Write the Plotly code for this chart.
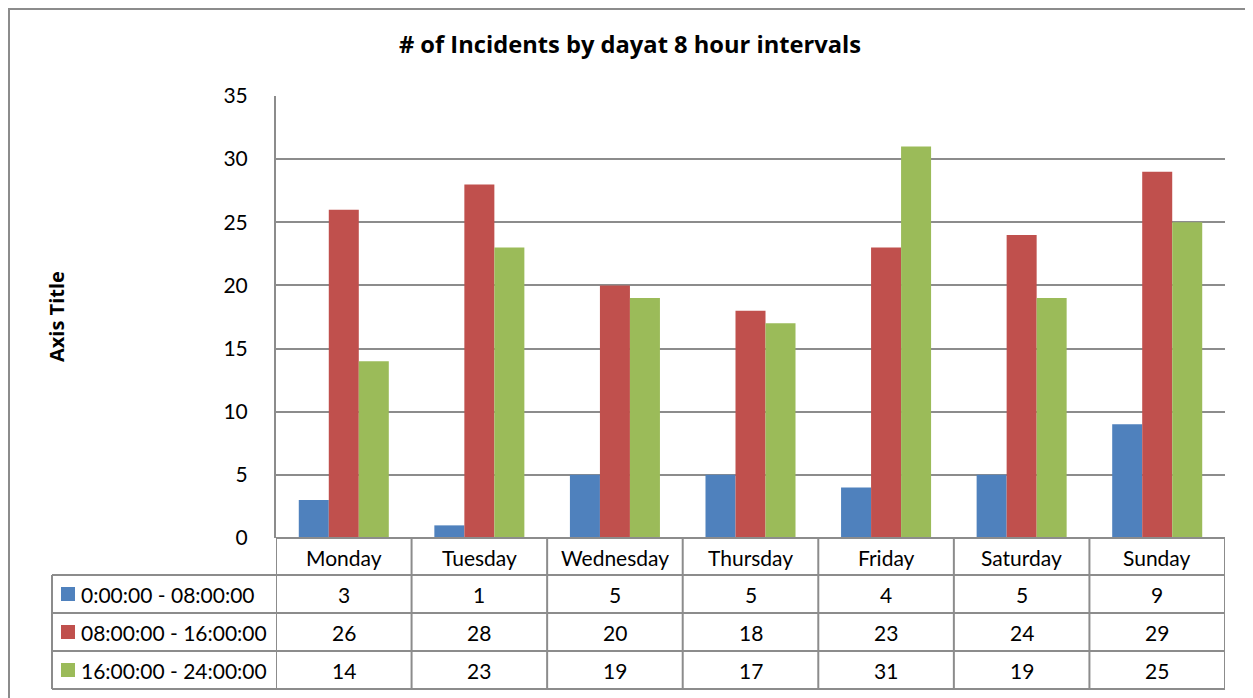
import plotly.graph_objects as go

days = ["Monday", "Tuesday", "Wednesday", "Thursday", "Friday", "Saturday", "Sunday"]
series_names = ["0:00:00 - 08:00:00", "08:00:00 - 16:00:00", "16:00:00 - 24:00:00"]
night = [3, 1, 5, 5, 4, 5, 9]
day_shift = [26, 28, 20, 18, 23, 24, 29]
evening = [14, 23, 19, 17, 31, 19, 25]
series_values = [night, day_shift, evening]
colors = ["#4F81BD", "#C0504D", "#9BBB59"]
y_ticks = [0, 5, 10, 15, 20, 25, 30, 35]

# page body has an 8px margin; work in screen pixels and convert
OFF = 8
W, H = 1253 - OFF, 698 - OFF
L, R, T, B = 276, 1225, 96, 538  # screen pixels of plot area
FONT = "Lato"
BOLD_FONT = "Open Sans"
GRID = "#8C8C8C"
FS = 21


def py(p):  # screen pixel y -> paper y
    return (B - p) / (B - T)


def px(p):  # screen pixel x -> paper x
    return (p - L) / (R - L)


fig = go.Figure()
for name, vals, c in zip(series_names, series_values, colors):
    fig.add_trace(go.Bar(x=days, y=vals, name=name, marker=dict(color=c, line=dict(width=0))))

shapes = []
annotations = []

row_lines = [538, 575, 613, 651, 689]
row_centers = [557, 594, 632, 670]

shapes.append(dict(type="line", xref="x", yref="paper", x0=-0.5, x1=len(days) - 0.5,
                   y0=py(row_lines[0]), y1=py(row_lines[0]), line=dict(color=GRID, width=2)))
for rl in row_lines[1:]:
    shapes.append(dict(type="line", xref="paper", yref="paper", x0=px(52), x1=1,
                       y0=py(rl), y1=py(rl), line=dict(color=GRID, width=2)))
for i in range(len(days) + 1):
    shapes.append(dict(type="line", xref="x", yref="paper", x0=i - 0.5, x1=i - 0.5,
                       y0=py(row_lines[0]), y1=py(row_lines[-1]), line=dict(color=GRID, width=2)))
shapes.append(dict(type="line", xref="paper", yref="paper", x0=px(52), x1=px(52),
                   y0=py(row_lines[1]), y1=py(row_lines[-1]), line=dict(color=GRID, width=2)))

for i, d in enumerate(days):
    annotations.append(dict(xref="x", yref="paper", x=i, y=py(row_centers[0]), text=d,
                            showarrow=False, xanchor="center", yanchor="middle",
                            font=dict(family=FONT, size=FS, color="black")))
for r, (name, vals, c) in enumerate(zip(series_names, series_values, colors)):
    yc = row_centers[r + 1]
    shapes.append(dict(type="rect", xref="paper", yref="paper", x0=px(61), x1=px(75),
                       y0=py(yc + 7), y1=py(yc - 7), fillcolor=c, line=dict(width=0)))
    annotations.append(dict(xref="paper", yref="paper", x=px(79), y=py(yc), text=name,
                            showarrow=False, xanchor="left", yanchor="middle",
                            font=dict(family=FONT, size=FS, color="black")))
    for i, v in enumerate(vals):
        annotations.append(dict(xref="x", yref="paper", x=i, y=py(yc), text=str(v),
                                showarrow=False, xanchor="center", yanchor="middle",
                                font=dict(family=FONT, size=FS, color="black")))

annotations.append(dict(xref="paper", yref="paper", x=px(56), y=py(317), text="<b>Axis Title</b>",
                        textangle=-90, showarrow=False, xanchor="center", yanchor="middle",
                        font=dict(family=BOLD_FONT, size=20, color="black")))

# outer chart border (left and top edges visible; right/bottom beyond the view)
shapes.append(dict(type="rect", xref="paper", yref="paper", x0=px(OFF + 1), x1=px(1262),
                   y0=py(707), y1=py(OFF + 1), line=dict(color=GRID, width=2),
                   fillcolor="rgba(0,0,0,0)"))

fig.update_layout(
    width=W, height=H,
    margin=dict(l=L - OFF, r=(W + OFF) - R, t=T - OFF, b=(H + OFF) - B),
    paper_bgcolor="white", plot_bgcolor="white",
    barmode="group", bargap=0.336, bargroupgap=0,
    showlegend=False,
    title=dict(text="<b># of Incidents by dayat 8 hour intervals</b>",
               x=(630 - OFF) / W, xanchor="center",
               y=1 - (45 - OFF) / H, yanchor="middle", xref="container", yref="container",
               font=dict(family=BOLD_FONT, size=23.7, color="black")),
    xaxis=dict(showticklabels=False, showgrid=False, zeroline=False, showline=False,
               range=[-0.5, len(days) - 0.5], fixedrange=True),
    yaxis=dict(range=[0, 35], tickvals=y_ticks, showgrid=True, gridcolor=GRID, gridwidth=2,
               zeroline=False, showline=True, linecolor=GRID, linewidth=2,
               ticks="", ticklabelstandoff=22,
               tickfont=dict(family=FONT, size=FS, color="black")),
    shapes=shapes, annotations=annotations,
)

fig.write_html("out.html")
